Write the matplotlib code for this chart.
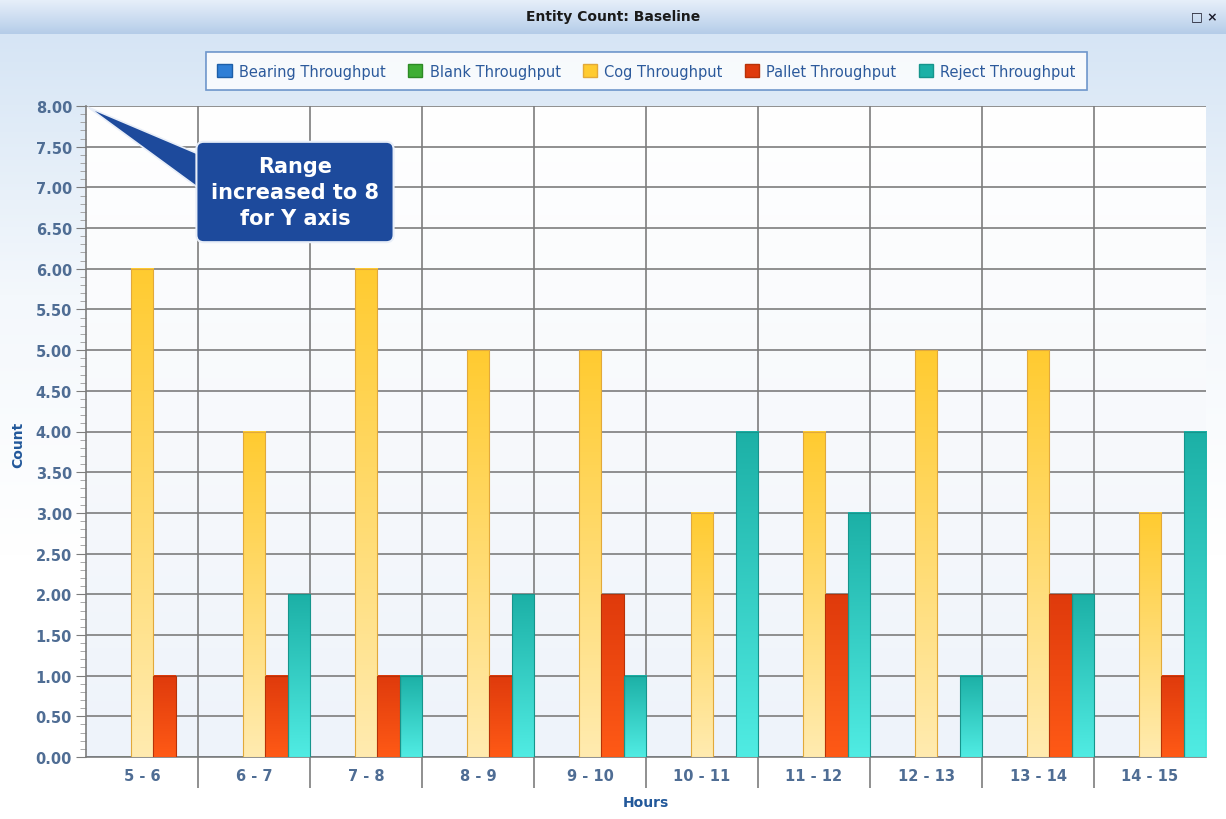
import numpy as np
import matplotlib
matplotlib.use("Agg")
import matplotlib.pyplot as plt
from matplotlib.colors import LinearSegmentedColormap
from matplotlib.patches import Patch
from matplotlib.ticker import MultipleLocator, FormatStrFormatter

# data
hours = ["5 - 6", "6 - 7", "7 - 8", "8 - 9", "9 - 10", "10 - 11",
         "11 - 12", "12 - 13", "13 - 14", "14 - 15"]
bearing = [0, 0, 0, 0, 0, 0, 0, 0, 0, 0]
blank = [0, 0, 0, 0, 0, 0, 0, 0, 0, 0]
cog = [6, 4, 6, 5, 5, 3, 4, 5, 5, 3]
pallet = [1, 1, 1, 1, 2, 0, 2, 0, 2, 1]
reject = [0, 2, 1, 2, 1, 4, 3, 1, 2, 4]

series = [
    ("Bearing Throughput", bearing, "#2f7fd6", "#6fb4f0", "#1d5fa8"),
    ("Blank Throughput", blank, "#3fae34", "#7fdc6a", "#2d8a25"),
    ("Cog Throughput", cog, "#ffcb30", "#ffebb0", "#e2a93a"),
    ("Pallet Throughput", pallet, "#df3a0c", "#ff5a16", "#b83208"),
    ("Reject Throughput", reject, "#1cb0a6", "#50ece3", "#16958c"),
]

W, H = 1226, 820
fig = plt.figure(figsize=(W / 100, H / 100), dpi=100)
fig.patch.set_facecolor("white")

# panel background (light blue fading to white)
bg = fig.add_axes([0, 0, 1, 1 - 35 / H], zorder=-10)
grad = np.linspace(0, 1, 256).reshape(-1, 1)
bg.imshow(grad, aspect="auto", extent=[0, 1, 0, 1], origin="lower",
          cmap=LinearSegmentedColormap.from_list("p", ["#ffffff", "#ffffff", "#f4f8fc", "#d6e5f5"]))
bg.set_axis_off()

# title bar
tb = fig.add_axes([0, 1 - 35 / H, 1, 35 / H], zorder=-9)
tb.imshow(grad, aspect="auto", extent=[0, 1, 0, 1], origin="lower",
          cmap=LinearSegmentedColormap.from_list("t", ["#b4cce8", "#cfdff2", "#e8f0fa"]))
tb.set_axis_off()
fig.text(0.5, 1 - 17 / H, "Entity Count: Baseline", ha="center", va="center",
         fontsize=10, fontweight="bold", color="#1a1a1a")
fig.text(0.993, 1 - 17 / H, "\u25a1 \u00d7", ha="right", va="center",
         fontsize=9, fontweight="bold", color="#1a1a2a")

ax = fig.add_axes([86 / W, 1 - 758 / H, (1206 - 86) / W, (758 - 107) / H])

# plot-area background gradient
ax.imshow(grad, aspect="auto", extent=[-0.5, 9.5, 0, 8], origin="lower", zorder=0,
          cmap=LinearSegmentedColormap.from_list("a", ["#eef3fa", "#f7f9fc", "#ffffff"]))

x = np.arange(len(hours))
bw = 0.2
for k, (name, vals, top, bot, edge) in enumerate(series):
    bars = ax.bar(x + (k - 2) * bw, vals, bw, color="none", edgecolor=edge,
                  linewidth=0.8, zorder=4)
    cmap = LinearSegmentedColormap.from_list(name, [bot, top])
    for b in bars:
        h = b.get_height()
        if h <= 0:
            continue
        x0 = b.get_x()
        ax.imshow(grad, aspect="auto", origin="lower", cmap=cmap, zorder=3,
                  extent=[x0, x0 + b.get_width(), 0, h])

ax.set_xlim(-0.5, 9.5)
ax.set_ylim(0, 8)

ax.yaxis.set_major_locator(MultipleLocator(0.5))
ax.yaxis.set_minor_locator(MultipleLocator(0.1))
ax.yaxis.set_major_formatter(FormatStrFormatter("%.2f"))
ax.set_xticks(x)
ax.set_xticklabels(hours)
ax.set_xticks(x[:-1] + 0.5, minor=True)

ax.grid(True, which="major", axis="y", color="#7d7d7d", linewidth=1.2, zorder=1)
ax.grid(True, which="minor", axis="x", color="#7d7d7d", linewidth=1.2, zorder=1)
ax.set_axisbelow(True)

ax.tick_params(axis="y", which="major", length=7, color="#7d7d7d", labelsize=10.5,
               labelcolor="#4f6d94", pad=3)
ax.tick_params(axis="y", which="minor", length=4, color="#9a9a9a")
ax.tick_params(axis="x", which="major", length=0, labelsize=10.5, labelcolor="#4f6d94", pad=8)
ax.tick_params(axis="x", which="minor", length=22, color="#7d7d7d", width=1.2)
for lab in ax.get_yticklabels() + ax.get_xticklabels():
    lab.set_fontweight("bold")

for side in ["top", "right"]:
    ax.spines[side].set_visible(False)
for side in ["left", "bottom"]:
    ax.spines[side].set_color("#7d7d7d")
    ax.spines[side].set_linewidth(1.2)

fig.text(18 / W, 1 - 445 / H, "Count", rotation=90, ha="center", va="center",
         fontsize=10, fontweight="bold", color="#22589a")
fig.text(646 / W, 1 - 803 / H, "Hours", ha="center", va="center",
         fontsize=10, fontweight="bold", color="#22589a")

handles = [Patch(facecolor=s[2], edgecolor=s[4]) for s in series]
leg = fig.legend(handles, [s[0] for s in series], ncol=5, loc="center",
                 bbox_to_anchor=(646.5 / W, 1 - 72 / H), fontsize=10.5,
                 frameon=True, fancybox=False, handlelength=1.0, handleheight=1.0,
                 handletextpad=0.5, columnspacing=1.5, borderpad=0.8)
leg.get_frame().set_edgecolor("#4f7fbf")
leg.get_frame().set_linewidth(1.2)
for t in leg.get_texts():
    t.set_color("#2c5a9c")

# callout
ax.annotate("Range\nincreased to 8\nfor Y axis", xy=(-0.5, 8),
            xytext=(295 / W, 1 - 193 / H), textcoords="figure fraction",
            ha="center", va="center", fontsize=15, fontweight="bold", color="white",
            linespacing=1.35, zorder=10, annotation_clip=False,
            bbox=dict(boxstyle="round,pad=0.7,rounding_size=0.35", fc="#1d4a9c",
                      ec="#e8eef8", lw=1.5),
            arrowprops=dict(arrowstyle="wedge,tail_width=1.8,shrink_factor=0.5",
                            fc="#1d4a9c", ec="#e8eef8", lw=1.2, patchA=None,
                            relpos=(0.12, 0.55)))

fig.savefig("out.png", dpi=100)
